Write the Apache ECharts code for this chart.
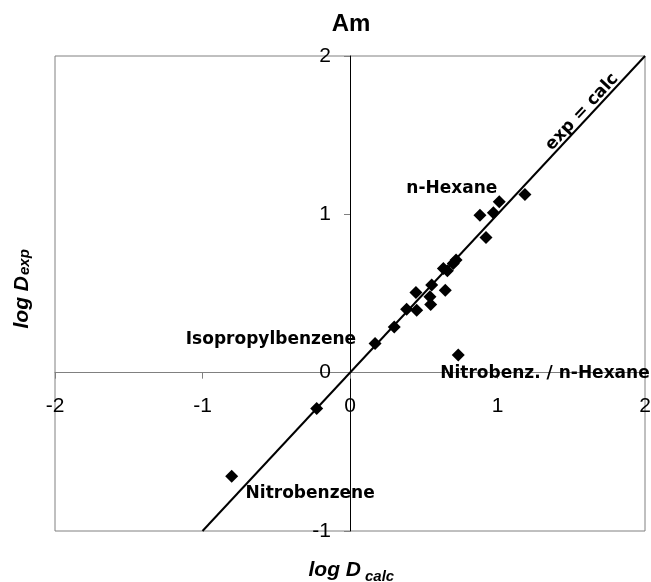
<!DOCTYPE html>
<html>
<head>
<meta charset="utf-8">
<script src="https://cdn.jsdelivr.net/npm/echarts@6/dist/echarts.min.js"></script>
<style>
html,body{margin:0;padding:0;background:#fff;}
#c{width:651px;height:582px;}
</style>
</head>
<body>
<div id="c"></div>
<script>
// Data: log D calc (x) vs log D exp (y)
const logDcalc = [0.17, 0.30, 0.384, 0.452, 0.447, 0.547, 0.542, 0.554, 0.646, 0.633, 0.66, 0.70, 0.719, 0.734, 0.881, 0.972, 1.012, 1.186, 0.922, -0.226, -0.802];
const logDexp  = [0.184, 0.289, 0.401, 0.395, 0.507, 0.431, 0.479, 0.553, 0.521, 0.658, 0.643, 0.69, 0.711, 0.111, 0.995, 1.01, 1.079, 1.126, 0.854, -0.226, -0.654];
// Reference line exp = calc
const refX = [-1, 2];
const refY = [-1, 2];
// Axis ticks
const xTicks = [-2, -1, 0, 1, 2];
const yTicks = [-1, 0, 1, 2];

const points = logDcalc.map((x, i) => [x, logDexp[i]]);
const refLine = refX.map((x, i) => [x, refY[i]]);

const noBorder = {textBorderWidth: 0, textBorderColor: 'transparent', textShadowBlur: 0, opacity: 1};
const annFont = Object.assign({fontFamily: 'DejaVu Sans', fontWeight: 'bold', fontSize: 17, color: '#000'}, noBorder);
const annotations = [
  {value: [1.573, 1.646], name: 'exp = calc', rotate: 47},
  {value: [0.69, 1.163], name: 'n-Hexane'},
  {value: [-0.536, 0.21], name: 'Isopropylbenzene'},
  {value: [1.322, -0.005], name: 'Nitrobenz. / n-Hexane'},
  {value: [-0.27, -0.763], name: 'Nitrobenzene'}
];

const chart = echarts.init(document.getElementById('c'), null, {renderer: 'canvas'});
const tickFont = Object.assign({fontFamily: 'Liberation Sans', fontSize: 21, color: '#000'}, noBorder);
const titleFontMain = {fontFamily: 'Liberation Sans', fontWeight: 'bold', fontStyle: 'italic', fontSize: 21, fill: '#000'};
const titleFontSub = {fontFamily: 'Liberation Sans', fontWeight: 'bold', fontStyle: 'italic', fontSize: 15, fill: '#000'};
const solid = {color: '#000', opacity: 1};

chart.setOption({
  animation: false,
  backgroundColor: '#fff',
  grid: {left: 55, right: 6, top: 56, bottom: 51, show: true, borderColor: '#808080', borderWidth: 1, containLabel: false},
  xAxis: {
    type: 'value', min: xTicks[0], max: xTicks[xTicks.length - 1], interval: 1,
    splitLine: {show: false},
    axisLine: {onZero: true, lineStyle: {color: '#808080', width: 1}},
    axisTick: {show: true, length: 6, inside: false, lineStyle: {color: '#808080'}},
    axisLabel: {show: false}
  },
  yAxis: {
    type: 'value', min: yTicks[0], max: yTicks[yTicks.length - 1], interval: 1,
    splitLine: {show: false},
    axisLine: {onZero: true, lineStyle: {color: '#000', width: 1}},
    axisTick: {show: true, length: 6, inside: false, lineStyle: {color: '#808080'}},
    axisLabel: {show: false}
  },
  series: [
    {
      type: 'line', data: refLine, symbol: 'none', silent: true,
      lineStyle: {color: '#000', width: 2, opacity: 1}, z: 2
    },
    {
      type: 'scatter', data: points, symbol: 'diamond', symbolSize: 13,
      itemStyle: solid, z: 3
    },
    {
      type: 'scatter', symbolSize: 0, silent: true, z: 4, itemStyle: solid,
      data: annotations.map(a => ({
        value: a.value, name: a.name,
        label: Object.assign({show: true, position: 'inside', formatter: a.name, rotate: a.rotate || 0, align: 'center', verticalAlign: 'middle'}, annFont)
      }))
    },
    {
      // x tick labels along the zero line
      type: 'scatter', symbolSize: 0, silent: true, z: 4, clip: false, itemStyle: solid,
      data: xTicks.map(t => [t, 0]),
      label: Object.assign({show: true, position: 'inside', offset: [0, 34], align: 'center', verticalAlign: 'middle',
        formatter: p => String(p.value[0])}, tickFont)
    },
    {
      // y tick labels along the zero line
      type: 'scatter', symbolSize: 0, silent: true, z: 4, clip: false, itemStyle: solid,
      data: yTicks.map(t => [0, t]),
      label: Object.assign({show: true, position: 'inside', offset: [-19, 0], align: 'right', verticalAlign: 'middle',
        formatter: p => String(p.value[1])}, tickFont)
    }
  ],
  graphic: [
    {type: 'text', x: 351, y: 24, style: {text: 'Am', fontFamily: 'Liberation Sans', fontWeight: 'bold', fontSize: 24, fill: '#000', align: 'center', verticalAlign: 'middle'}},
    {type: 'text', x: 361, y: 570, style: Object.assign({text: 'log D', align: 'right', verticalAlign: 'middle'}, titleFontMain)},
    {type: 'text', x: 365, y: 577, style: Object.assign({text: 'calc', align: 'left', verticalAlign: 'middle'}, titleFontSub)},
    {type: 'group', x: 22, y: 296, rotation: Math.PI / 2, children: [
      {type: 'text', x: 20, y: 0, style: Object.assign({text: 'log D', align: 'right', verticalAlign: 'middle'}, titleFontMain)},
      {type: 'text', x: 21, y: 3, style: Object.assign({text: 'exp', align: 'left', verticalAlign: 'middle'}, titleFontSub)}
    ]}
  ]
});
</script>
</body>
</html>
